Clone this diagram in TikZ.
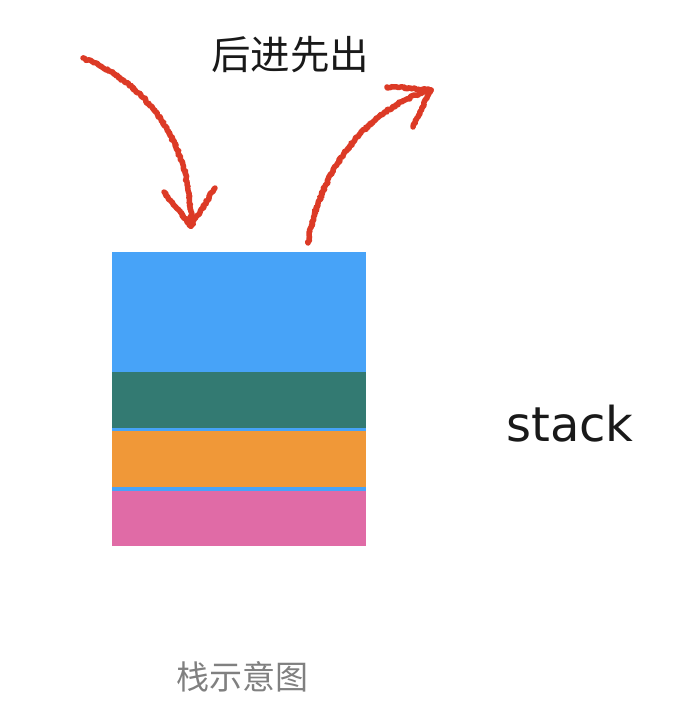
\documentclass[tikz,border=0pt]{standalone}
\usepackage{fontspec}
\newfontfamily\cjk{Noto Sans CJK SC}
\newfontfamily\stackfont{DejaVu Sans}
\usetikzlibrary{decorations.pathmorphing}
\definecolor{layerblue}{HTML}{47A3F8}
\definecolor{layerteal}{HTML}{337A72}
\definecolor{layerorange}{HTML}{F09838}
\definecolor{layerpink}{HTML}{E06BA6}
\definecolor{chalkred}{HTML}{DC3A26}
\tikzset{
  chalk/.style={draw=chalkred, line width=5.5pt, line cap=round, line join=round,
    decorate, decoration={random steps, segment length=1.5pt, amplitude=1.1pt}},
  layer/.style={inner sep=0pt, outer sep=0pt, minimum width=254pt, anchor=north west},
}
\begin{document}
\begin{tikzpicture}[x=1pt,y=-1pt]
\useasboundingbox (0,0) rectangle (690,710);
% stack layers
\node[layer, fill=layerblue, minimum height=294pt] (base) at (112,252) {};
\node[layer, fill=layerteal, minimum height=56pt] (teal) at (112,372) {};
\node[layer, fill=layerorange, minimum height=56pt] (orange) at (112,431) {};
\node[layer, fill=layerpink, minimum height=55pt] (pink) at (112,491) {};
% texts
\node[font=\cjk\fontsize{39.5}{44}\selectfont, text=black!90] (push) at (290,55) {后进先出};
\node[font=\stackfont\fontsize{48}{54}\selectfont, text=black!90] (label) at (570,424) {stack};
\node[font=\cjk\fontsize{33}{38}\selectfont, text=black!50] (caption) at (242,677) {栈示意图};
% arrow coordinates
\coordinate (inS) at (83,58);
\coordinate (inT) at (191,226);
\coordinate (inL) at (164,192);
\coordinate (inR) at (215,188);
\coordinate (outS) at (308,243);
\coordinate (outT) at (431,90);
\coordinate (outU) at (387,87);
\coordinate (outD) at (413,127);
% incoming arrow
\draw[chalk] (inS) .. controls (150,85) and (192,145) .. (inT);
\draw[chalk] (inL) -- (inT) -- (inR);
% outgoing arrow
\draw[chalk] (outS) .. controls (318,175) and (365,108) .. (outT);
\draw[chalk] (outU) -- (outT) -- (outD);
\end{tikzpicture}
\end{document}
